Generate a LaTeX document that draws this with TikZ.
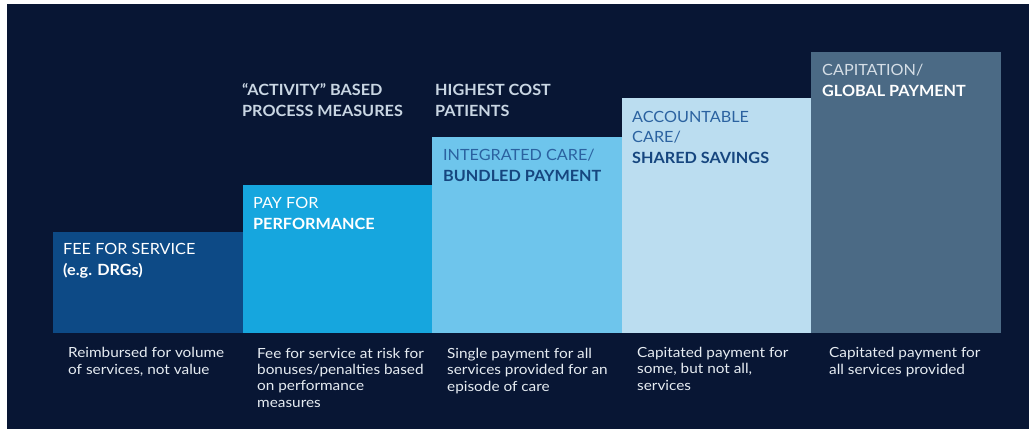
\documentclass[tikz,border=0pt]{standalone}
\usepackage{fontspec}
\setmainfont{Lato}
\newfontfamily\labfont[FakeStretch=1.05]{Lato}
\newfontfamily\descfont[FakeStretch=1.1]{Lato}
\definecolor{bgnavy}{HTML}{081634}
\definecolor{cFFS}{HTML}{0D4A86}
\definecolor{cPFP}{HTML}{16A6DE}
\definecolor{cICB}{HTML}{6EC5EC}
\definecolor{cACS}{HTML}{BBDDF0}
\definecolor{cCAP}{HTML}{4B6A85}
\definecolor{txtRegBlue}{HTML}{2B62A0}
\definecolor{txtBoldBlue}{HTML}{16467F}
\definecolor{txtTop}{HTML}{C9D6E3}
\definecolor{txtCapReg}{HTML}{D5DEE6}
\definecolor{txtDesc}{HTML}{E6ECF2}
\tikzset{
  stepbox/.style={rectangle, inner sep=0pt, outer sep=0pt, draw=none, anchor=south west, minimum width=189bp},
  boxlabel/.style={anchor=base west, inner sep=0pt, align=left, font=\labfont\fontsize{15.5}{20.5}\selectfont},
  toplabel/.style={anchor=base west, inner sep=0pt, align=left, text=txtTop, font=\labfont\bfseries\fontsize{15.5}{21}\selectfont},
  desc/.style={anchor=base west, inner sep=0pt, align=left, text=txtDesc, font=\descfont\fontsize{14}{16.2}\selectfont},
}
\begin{document}
\begin{tikzpicture}[x=1bp,y=-1bp]
\useasboundingbox (0,0) rectangle (1029,429);
\fill[white] (0,0) rectangle (1029,429);
\fill[bgnavy] (7,4) rectangle (1029,429);
% boxes
\node[stepbox, fill=cFFS, minimum height=101bp, minimum width=190bp] (b1) at (53,333) {};
\node[stepbox, fill=cPFP, minimum height=148bp] (b2) at (243,333) {};
\node[stepbox, fill=cICB, minimum height=196bp, minimum width=190bp] (b3) at (432,333) {};
\node[stepbox, fill=cACS, minimum height=235bp] (b4) at (622,333) {};
\node[stepbox, fill=cCAP, minimum height=281bp, minimum width=190bp] (b5) at (811,333) {};
% box labels (anchored at baseline of last line)
\node[boxlabel, text=white] (l1) at (63,275) {FEE FOR SERVICE\\\bfseries (e.g. DRGs)};
\node[boxlabel, text=white] (l2) at (253,229) {PAY FOR\\\bfseries PERFORMANCE};
\node[boxlabel, text=txtRegBlue] (l3) at (443,181) {INTEGRATED CARE/\\\color{txtBoldBlue}\bfseries BUNDLED PAYMENT};
\node[boxlabel, text=txtRegBlue] (l4) at (632,163) {ACCOUNTABLE\\CARE/\\\color{txtBoldBlue}\bfseries SHARED SAVINGS};
\node[boxlabel, text=txtCapReg] (l5) at (822,96) {CAPITATION/\\\color{white}\bfseries GLOBAL PAYMENT};
% top labels
\node[toplabel] (t1) at (242,116) {“ACTIVITY” BASED\\PROCESS MEASURES};
\node[toplabel] (t2) at (435,116) {HIGHEST COST\\PATIENTS};
% descriptions
\node[desc] (d1) at (68,374) {Reimbursed for volume\\of services, not value};
\node[desc] (d2) at (257,407) {Fee for service at risk for\\bonuses/penalties based\\on performance\\measures};
\node[desc] (d3) at (447,391) {Single payment for all\\services provided for an\\episode of care};
\node[desc] (d4) at (637,390) {Capitated payment for\\some, but not all,\\services};
\node[desc] (d5) at (829,374) {Capitated payment for\\all services provided};
\end{tikzpicture}
\end{document}
